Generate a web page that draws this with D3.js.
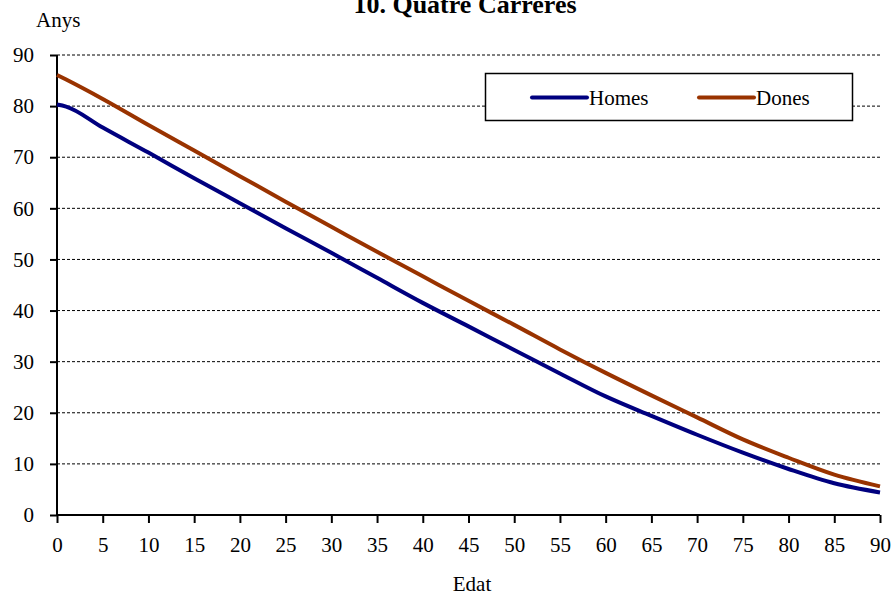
<!DOCTYPE html>
<html><head><meta charset="utf-8">
<script src="https://cdn.jsdelivr.net/npm/d3@7"></script>
<style>body{margin:0;background:#fff}svg{display:block}text{font-family:"Liberation Serif","Times New Roman",serif;fill:#000}</style>
</head><body><svg id="c" width="892" height="595"></svg>
<script>
const ages = [0, 1, 5, 10, 15, 20, 25, 30, 35, 40, 45, 50, 55, 60, 65, 70, 75, 80, 85, 90];
const homes = [80.3, 79.9, 75.8, 70.9, 65.9, 61.0, 56.1, 51.3, 46.4, 41.5, 36.9, 32.3, 27.7, 23.2, 19.4, 15.7, 12.2, 9.0, 6.2, 4.4];
const dones = [86.1, 85.2, 81.4, 76.3, 71.3, 66.3, 61.3, 56.4, 51.5, 46.7, 41.9, 37.2, 32.4, 27.8, 23.4, 19.1, 14.8, 11.2, 7.9, 5.6];
const xTicks = d3.range(0, 91, 5);
const yTicks = d3.range(0, 91, 10);
const seriesNames = ["Homes", "Dones"];
const colors = ["#00007f", "#993300"];
const title = "10. Quatre Carreres";

const svg = d3.select("#c");
const L = 57, R = 880, T = 55, B = 515;
const x = d3.scaleLinear().domain([0, 90]).range([L, R]);
const y = d3.scaleLinear().domain([0, 90]).range([B, T]);

// gridlines
svg.append("g").selectAll("line").data(yTicks.filter(d => d > 0)).join("line")
  .attr("x1", L).attr("x2", R).attr("y1", d => y(d)).attr("y2", d => y(d))
  .attr("stroke", "#000").attr("stroke-width", 1).attr("stroke-dasharray", "3,2");

// axes
const yAxis = svg.append("g").attr("transform", `translate(${L},0)`)
  .call(d3.axisLeft(y).tickValues(yTicks).tickSize(7).tickPadding(16).tickFormat(d3.format("d")));
const xAxis = svg.append("g").attr("transform", `translate(0,${B})`)
  .call(d3.axisBottom(x).tickValues(xTicks).tickSize(8).tickPadding(14).tickFormat(d3.format("d")));
[yAxis, xAxis].forEach(a => {
  a.select(".domain").attr("stroke", "#000").attr("stroke-width", 2);
  a.selectAll(".tick line").attr("stroke", "#000").attr("stroke-width", 2);
  a.selectAll("text").style("font-size", "21px").style("font-family", '"Liberation Serif",serif');
});
yAxis.select(".domain").attr("d", `M0,${B}V${T}`);
xAxis.select(".domain").attr("d", `M${L},0H${R}`);

// lines
const line = d3.line().x((d, i) => x(ages[i])).y(d => y(d)).curve(d3.curveMonotoneX);
[homes, dones].forEach((s, i) => {
  svg.append("path").datum(s).attr("d", line).attr("fill", "none")
    .attr("stroke", colors[i]).attr("stroke-width", 4).attr("stroke-linejoin", "round");
});

// title & labels
svg.append("text").attr("x", 465).attr("y", 13).attr("text-anchor", "middle")
  .style("font-size", "26px").style("font-weight", "bold").text(title);
svg.append("text").attr("x", 36).attr("y", 27).style("font-size", "21px").text("Anys");
svg.append("text").attr("x", 472).attr("y", 591).attr("text-anchor", "middle").style("font-size", "21px").text("Edat");

// legend
const lg = svg.append("g");
lg.append("rect").attr("x", 485.5).attr("y", 73.5).attr("width", 367).attr("height", 47)
  .attr("fill", "#fff").attr("stroke", "#000").attr("stroke-width", 1.5);
const lx = [532, 699];
seriesNames.forEach((n, i) => {
  lg.append("line").attr("x1", lx[i]).attr("x2", lx[i] + 55).attr("y1", 97.5).attr("y2", 97.5)
    .attr("stroke", colors[i]).attr("stroke-width", 4).attr("stroke-linecap", "round");
  lg.append("text").attr("x", lx[i] + 57).attr("y", 104.5).style("font-size", "21px").text(n);
});
</script></body></html>
